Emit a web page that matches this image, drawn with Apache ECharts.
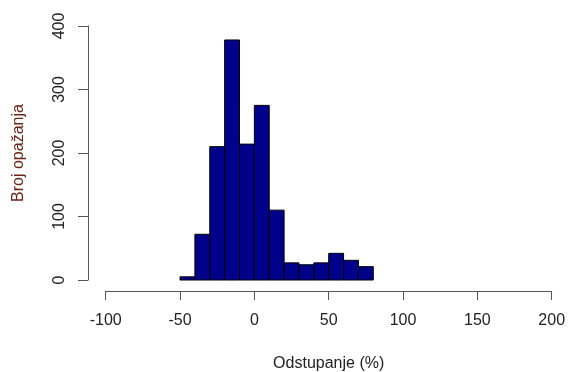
<!DOCTYPE html>
<html>
<head>
<meta charset="utf-8">
<script src="https://cdn.jsdelivr.net/npm/echarts@6/dist/echarts.min.js"></script>
<style>html,body{margin:0;padding:0;background:#fff;}#c{width:569px;height:372px;}</style>
</head>
<body>
<div id="c"></div>
<script>
var binStarts = [-50, -40, -30, -20, -10, 0, 10, 20, 30, 40, 50, 60, 70];
var binWidth = 10;
var counts = [5, 72, 210, 378, 214, 275, 110, 27, 24, 27, 42, 31, 21];
var xTicks = [-100, -50, 0, 50, 100, 150, 200];
var yTicks = [0, 100, 200, 300, 400];

var data = binStarts.map(function (s, i) { return [s, s + binWidth, counts[i]]; });
var font = '"Liberation Sans", Arial, sans-serif';
var chart = echarts.init(document.getElementById('c'));
chart.setOption({
  animation: false,
  backgroundColor: '#fff',
  grid: { left: 105.7, right: 17.3, top: 26, bottom: 92, containLabel: false, outerBoundsMode: 'none' },
  xAxis: {
    type: 'value', min: xTicks[0], max: xTicks[xTicks.length - 1], interval: 50,
    offset: 11,
    name: 'Odstupanje (%)', nameLocation: 'middle', nameGap: 65,
    nameTextStyle: { fontFamily: font, fontSize: 16, color: '#222' },
    axisLine: { show: true, onZero: false, lineStyle: { color: '#555', width: 1 } },
    axisTick: { show: true, length: 9, lineStyle: { color: '#555' } },
    axisLabel: { fontFamily: font, fontSize: 16, color: '#222', margin: 22 },
    splitLine: { show: false }
  },
  yAxis: {
    type: 'value', min: yTicks[0], max: yTicks[yTicks.length - 1], interval: 100,
    offset: 17.7,
    name: 'Broj opažanja', nameLocation: 'middle', nameGap: 61,
    nameTextStyle: { fontFamily: font, fontSize: 16, color: '#6b2418' },
    axisLine: { show: true, onZero: false, lineStyle: { color: '#555', width: 1 } },
    axisTick: { show: true, length: 10, lineStyle: { color: '#555' } },
    axisLabel: { fontFamily: font, fontSize: 16, color: '#222', margin: 20, rotate: 90 },
    splitLine: { show: false }
  },
  series: [{
    type: 'custom',
    data: data,
    renderItem: function (params, api) {
      var p1 = api.coord([api.value(0), api.value(2)]);
      var p2 = api.coord([api.value(1), 0]);
      return {
        type: 'rect',
        shape: { x: p1[0], y: p1[1], width: p2[0] - p1[0], height: p2[1] - p1[1] },
        style: { fill: '#00008B', stroke: '#000', lineWidth: 1 }
      };
    }
  }]
});
</script>
</body>
</html>
